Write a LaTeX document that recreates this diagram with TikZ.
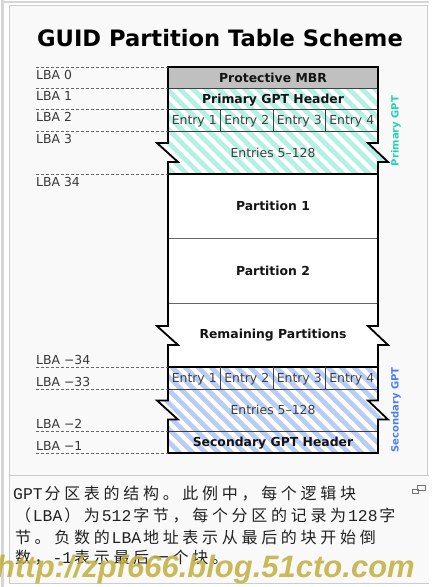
\documentclass[tikz,border=0pt]{standalone}
\usepackage{fontspec}
\setmainfont{DejaVu Sans}
\newfontfamily\cjkf{Noto Sans CJK SC}
\newfontfamily\monof{Liberation Mono}
\newfontfamily\wmf{Liberation Sans}
\definecolor{hatchcyan}{HTML}{B4F0E4}
\definecolor{hatchblue}{HTML}{B8CCF4}
\definecolor{pricol}{HTML}{22D2B2}
\definecolor{seccol}{HTML}{4A7EF0}
\definecolor{mbrgray}{HTML}{C0C0C0}
\definecolor{framegray}{HTML}{D6D6D6}
\definecolor{bggray}{HTML}{F9F9F9}
\definecolor{wmcol}{HTML}{C2AE3C}
\definecolor{captxt}{HTML}{222222}
% caption helpers: fixed-pitch cells
\newcommand\cjkrun[1]{\cjkloop#1\relax}
\def\cjkloop#1{\ifx\relax#1\else\makebox[19.7pt]{\cjkf #1}\expandafter\cjkloop\fi}
\newcommand\latrun[1]{\latloop#1\relax}
\def\latloop#1{\ifx\relax#1\else\makebox[9.85pt]{\monof\fontsize{16.4}{18}\selectfont #1}\expandafter\latloop\fi}
% region paths
\newcommand\colpath{(168,67) -- (378,67) -- (378,143) -- (368,143) -- (388,162) -- (378,162) -- (378,326) -- (368,326) -- (388,345) -- (378,345) -- (378,400.5) -- (368,400.5) -- (388,419.5) -- (378,419.5) -- (378,453) -- (168,453) -- (168,419.5) -- (178,419.5) -- (157,400.5) -- (168,400.5) -- (168,345) -- (178,345) -- (157,326) -- (168,326) -- (168,162) -- (178,162) -- (157,143) -- (168,143) -- cycle}
\newcommand\pripath{(168,88) -- (378,88) -- (378,143) -- (368,143) -- (388,162) -- (378,162) -- (378,174) -- (168,174) -- (168,162) -- (178,162) -- (157,143) -- (168,143) -- cycle}
\newcommand\secpath{(168,367) -- (378,367) -- (378,400.5) -- (368,400.5) -- (388,419.5) -- (378,419.5) -- (378,453) -- (168,453) -- (168,419.5) -- (178,419.5) -- (157,400.5) -- (168,400.5) -- cycle}
\tikzset{
  lbalbl/.style={font=\fontsize{12.4}{14}\selectfont, text=black!78, anchor=base west, inner sep=0pt},
  boldlbl/.style={font=\fontsize{12.4}{14}\selectfont\bfseries, text=black!92, anchor=base, inner sep=0pt},
  entrylbl/.style={font=\fontsize{12.4}{14}\selectfont, text=black!75, anchor=base, inner sep=0pt},
  sidelbl/.style={font=\fontsize{10}{12}\selectfont\bfseries, rotate=90, inner sep=0pt},
  lbadash/.style={draw=black!60, line width=0.9pt, dash pattern=on 3pt off 2pt},
  colborder/.style={draw=black, line width=1.8pt, line join=miter},
  rowsep/.style={draw=black!75, line width=0.9pt},
  thicksep/.style={draw=black, line width=1.6pt},
  partsep/.style={draw=black!60, line width=0.8pt},
  capline/.style={font=\cjkf\fontsize{16}{18}\selectfont, text=captxt, anchor=base west, inner sep=0pt},
}
\begin{document}
\begin{tikzpicture}[x=1pt,y=-1pt]
\useasboundingbox (0,0) rectangle (436,587);
% page and frames
\fill[white] (0,0) rectangle (436,587);
\fill[framegray] (1,0) rectangle (4,587);
\fill[framegray] (1,0.5) rectangle (429,2.5);
\filldraw[fill=bggray, draw=black!20, line width=0.8pt] (9.5,5) rectangle (427.5,475);
\fill[bggray] (9.5,475) rectangle (429,583);
\draw[black!20, line width=0.8pt] (429,475) -- (9.5,475) -- (9.5,583) -- (429,583);
% title
\node[font=\fontsize{22.6}{26}\selectfont\bfseries, anchor=base, inner sep=0pt] (title) at (220,46) {GUID Partition Table Scheme};
% column fill
\fill[white] \colpath;
\fill[mbrgray] (168,67) rectangle (378,88);
\begin{scope}
  \clip \pripath;
  \foreach \c in {-312,-299,...,312} \draw[hatchcyan, line width=4.6pt] (\c,0) -- ++(620,620);
\end{scope}
\begin{scope}
  \clip \secpath;
  \foreach \c in {-312,-299,...,312} \draw[hatchblue, line width=4.6pt] (\c,0) -- ++(620,620);
\end{scope}
% row separators
\draw[rowsep] (168,88) -- (378,88);
\draw[rowsep] (168,109) -- (378,109);
\draw[rowsep] (168,131) -- (378,131);
\draw[thicksep] (168,174) -- (378,174);
\draw[partsep] (168,238) -- (378,238);
\draw[partsep] (168,303) -- (378,303);
\draw[thicksep] (168,367) -- (378,367);
\draw[rowsep] (168,389) -- (378,389);
\draw[rowsep] (168,431) -- (378,431);
\foreach \x in {220.5,273,325.5} {
  \draw[rowsep] (\x,109) -- (\x,131);
  \draw[rowsep] (\x,367) -- (\x,389);
}
\draw[colborder] \colpath;
% dashed LBA lines
\foreach \y in {67,88,109,131,174,367,389,431,453} \draw[lbadash] (36,\y) -- (168,\y);
% LBA labels
\node[lbalbl] (lba0) at (36,79.5) {LBA 0};
\node[lbalbl] (lba1) at (36,100.5) {LBA 1};
\node[lbalbl] (lba2) at (36,121.5) {LBA 2};
\node[lbalbl] (lba3) at (36,143.5) {LBA 3};
\node[lbalbl] (lba34) at (36,186.5) {LBA 34};
\node[lbalbl] (lbam34) at (36,364.5) {LBA −34};
\node[lbalbl] (lbam33) at (36,386.5) {LBA −33};
\node[lbalbl] (lbam2) at (36,428.5) {LBA −2};
\node[lbalbl] (lbam1) at (36,450.5) {LBA −1};
% row labels
\node[boldlbl] (mbr) at (273,82) {Protective MBR};
\node[boldlbl] (phdr) at (273,103) {Primary GPT Header};
\node[entrylbl] (pe1) at (194.25,124.5) {Entry 1};
\node[entrylbl] (pe2) at (246.75,124.5) {Entry 2};
\node[entrylbl] (pe3) at (299.25,124.5) {Entry 3};
\node[entrylbl] (pe4) at (351.75,124.5) {Entry 4};
\node[entrylbl] (pent) at (273,157.5) {Entries 5–128};
\node[boldlbl] (part1) at (273,210.5) {Partition 1};
\node[boldlbl] (part2) at (273,275.5) {Partition 2};
\node[boldlbl] (rem) at (273,338) {Remaining Partitions};
\node[entrylbl] (se1) at (194.25,382.5) {Entry 1};
\node[entrylbl] (se2) at (246.75,382.5) {Entry 2};
\node[entrylbl] (se3) at (299.25,382.5) {Entry 3};
\node[entrylbl] (se4) at (351.75,382.5) {Entry 4};
\node[entrylbl] (sent) at (273,414.5) {Entries 5–128};
\node[boldlbl] (shdr) at (273,446.5) {Secondary GPT Header};
% side labels
\node[sidelbl, text=pricol] (prigpt) at (396,131) {Primary GPT};
\node[sidelbl, text=seccol] (secgpt) at (396,410) {Secondary GPT};
% caption
\node[capline] (cap1) at (13,499) {\latrun{GPT}\cjkrun{分区表的结构。此例中，每个逻辑块}};
\node[capline] (cap2) at (13,521) {\cjkrun{（}\latrun{LBA}\cjkrun{）为}\latrun{512}\cjkrun{字节，每个分区的记录为}\latrun{128}\cjkrun{字}};
\node[capline] (cap3) at (13,543) {\cjkrun{节。负数的}\latrun{LBA}\cjkrun{地址表示从最后的块开始倒}};
\node[capline] (cap4) at (13,563) {\cjkrun{数，}\latrun{-1}\cjkrun{表示最后一个块。}};
% enlarge icon
\draw[black!55, line width=0.8pt] (417.5,485.5) rectangle (425,490);
\draw[black!55, line width=0.8pt] (412,489) rectangle (418.5,493.5);
% watermark
\node[font=\wmf\bfseries\itshape\fontsize{31}{34}\selectfont, text=wmcol, text opacity=0.85, anchor=base west, inner sep=0pt] (wm) at (-4,577) {http://zpf666.blog.51cto.com};
\end{tikzpicture}
\end{document}
